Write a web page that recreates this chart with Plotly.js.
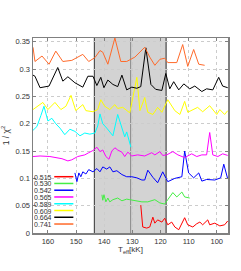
<!DOCTYPE html>
<html><head><meta charset="utf-8">
<script src="https://cdn.plot.ly/plotly-3.0.1.min.js"></script>
<style>html,body{margin:0;padding:0;background:#fff}#chart{width:241px;height:271px}</style>
</head><body><div id="chart"></div>
<script>
// Series labels and colours
const labels = ["0.515","0.530","0.542","0.565","0.589","0.609","0.664","0.741"];
const colors = ["#ff0000","#44ee44","#0000ff","#ff00ff","#00ffff","#ffff00","#000000","#ff6a2a"];

// T_eff [kK] and 1/chi^2 values per series
const t515 = [127.0,126.6,126.3,124.9,123.8,122.7,122.0,121.0,119.5,118.5,117.4,116.0,114.9,113.5,111.4,110.3,108.5,107.1,106.0,105.0,103.2,102.5,100.7,98.9,97.2,96.1];
const v515 = [0.051,0.022,0.011,0.009,0.011,0.029,0.018,0.024,0.020,0.027,0.015,0.020,0.011,0.006,0.028,0.015,0.011,0.017,0.020,0.015,0.024,0.015,0.018,0.013,0.015,0.022];

const t530 = [140.8,140.5,140.1,139.4,138.7,138.0,136.9,135.2,133.7,132.0,130.9,129.1,126.6,124.5,122.0,120.2,118.5,117.4,115.6,114.2,112.4,111.4,109.6];
const v530 = [0.070,0.060,0.070,0.057,0.064,0.057,0.061,0.064,0.059,0.062,0.061,0.059,0.057,0.057,0.061,0.055,0.053,0.061,0.074,0.066,0.075,0.066,0.064];

const t542 = [150.4,149.7,149.0,148.3,147.6,146.5,145.5,144.0,142.6,141.5,140.5,139.1,138.0,136.9,135.5,133.7,132.0,130.2,128.4,126.6,125.6,124.5,122.7,121.0,119.2,117.4,114.9,112.4,111.4,110.0,108.2,106.4,105.3,103.6,100.7,98.6,97.5,96.1];
const v542 = [0.110,0.094,0.110,0.103,0.112,0.108,0.116,0.112,0.118,0.112,0.121,0.117,0.121,0.112,0.114,0.107,0.103,0.103,0.101,0.097,0.097,0.115,0.102,0.092,0.112,0.094,0.100,0.103,0.150,0.110,0.101,0.110,0.095,0.098,0.097,0.101,0.126,0.099];

const t565 = [165.3,162.8,159.3,155.0,152.9,151.5,149.4,146.9,145.5,144.0,142.6,141.5,140.5,139.4,138.3,137.3,136.2,135.2,133.7,132.7,131.6,130.2,128.1,125.6,123.1,122.0,120.2,119.2,117.8,115.6,113.8,111.4,108.9,107.1,105.3,103.6,102.5,101.4,99.6,97.9,96.1];
const v565 = [0.140,0.141,0.140,0.136,0.132,0.134,0.140,0.143,0.147,0.151,0.157,0.149,0.152,0.140,0.135,0.150,0.156,0.152,0.148,0.140,0.148,0.141,0.143,0.141,0.147,0.143,0.149,0.142,0.143,0.149,0.143,0.138,0.145,0.140,0.143,0.143,0.184,0.143,0.140,0.145,0.142];

const t589 = [165.3,163.9,162.5,161.4,160.0,158.6,157.2,155.7,154.0,152.2,150.4,148.6,146.9,145.1,143.3,142.3,141.5,140.5,139.1,138.0,136.9,135.2,133.7,132.7,132.0,131.2,130.5];
const v589 = [0.188,0.195,0.215,0.232,0.205,0.210,0.200,0.192,0.180,0.190,0.186,0.178,0.183,0.181,0.183,0.196,0.218,0.200,0.192,0.185,0.178,0.217,0.190,0.176,0.185,0.170,0.157];

const t609 = [165.3,163.5,161.8,160.0,157.5,155.4,153.6,151.8,150.1,147.6,146.5,144.0,142.3,141.2,139.8,138.0,136.2,135.2,133.4,130.9,128.4,127.3,125.6,124.5,122.7,121.0,119.5,117.4,114.9,113.1,111.4,110.3,108.5,106.8,105.0,102.5,100.0,98.9,97.2,96.1];
const v609 = [0.226,0.232,0.239,0.226,0.239,0.226,0.232,0.252,0.224,0.235,0.224,0.222,0.226,0.244,0.232,0.226,0.235,0.228,0.230,0.220,0.285,0.224,0.248,0.221,0.217,0.230,0.221,0.244,0.224,0.217,0.241,0.221,0.226,0.230,0.222,0.233,0.217,0.226,0.217,0.224];

const t664 = [165.3,164.6,162.8,159.6,156.5,154.7,152.9,150.4,147.6,145.8,144.0,142.6,141.2,140.1,138.7,136.9,135.2,133.7,132.0,130.2,128.4,127.0,125.2,123.4,121.7,119.5,118.1,116.7,115.3,113.5,111.7,109.6,107.8,105.3,103.6,101.4,99.3,97.9,96.1];
const v664 = [0.289,0.287,0.266,0.269,0.303,0.278,0.286,0.275,0.267,0.287,0.287,0.270,0.285,0.266,0.280,0.272,0.268,0.289,0.262,0.267,0.265,0.268,0.339,0.272,0.263,0.261,0.292,0.264,0.277,0.262,0.273,0.264,0.269,0.259,0.264,0.262,0.285,0.269,0.266];

const t741 = [165.3,164.6,162.1,159.6,157.2,154.7,151.5,147.6,145.5,143.3,141.5,140.5,138.7,136.2,134.1,132.0,129.1,125.6,123.8,122.0,120.2,118.5,117.4,114.2,112.1,110.3,108.2,106.4,104.3];
const v741 = [0.340,0.314,0.324,0.309,0.333,0.314,0.316,0.327,0.314,0.321,0.334,0.331,0.309,0.357,0.314,0.314,0.322,0.340,0.322,0.307,0.318,0.320,0.312,0.312,0.345,0.305,0.336,0.309,0.307];

const xTicks = [160,150,140,130,120,110,100];
const yTicks = [0,0.05,0.1,0.15,0.2,0.25,0.3,0.35];
const yTickText = ["0","0.05","0.1","0.15","0.2","0.25","0.3","0.35"];

// shaded region bounds (kK)
const bandLeft = 143.5, bandRight = 118.0, bandMid = 130.6;

const xs = [t515,t530,t542,t565,t589,t609,t664,t741];
const ys = [v515,v530,v542,v565,v589,v609,v664,v741];

const traces = xs.map((x,i)=>({
  x:x, y:ys[i], type:'scatter', mode:'lines', name:labels[i],
  line:{color:colors[i], width:1}, showlegend:false, hoverinfo:'skip'
}));

const F = 'Liberation Sans, Arial, sans-serif';
const TXT = '#333';
const shapes = [
  {type:'rect', xref:'x', yref:'paper', x0:bandLeft, x1:bandRight, y0:0, y1:1, fillcolor:'#d3d3d3', line:{width:0}, layer:'between'},
  {type:'line', xref:'x', yref:'paper', x0:bandLeft, x1:bandLeft, y0:0, y1:1, line:{color:'#333', width:1}, layer:'between'},
  {type:'line', xref:'x', yref:'paper', x0:bandRight, x1:bandRight, y0:0, y1:1, line:{color:'#666', width:1.5}, layer:'between'},
  {type:'line', xref:'x', yref:'paper', x0:bandMid, x1:bandMid, y0:0, y1:1, line:{color:'#888', width:1}, layer:'between'}
];
const annotations = [];
// manual legend: text then line sample
const plotTop = 38, plotH = 195;
labels.forEach((lab,i)=>{
  const yPix = 176.7 + 6.76*i;
  const yp = (plotTop + plotH - yPix)/plotH;
  annotations.push({xref:'paper', yref:'paper', x:0.0, y:yp, xanchor:'left', yanchor:'middle',
    text:lab, showarrow:false, height:6.4, borderpad:0, valign:'middle',
    font:{family:F, size:7, color:TXT}});
  shapes.push({type:'line', xref:'paper', yref:'paper', x0:0.109, x1:0.207, y0:yp, y1:yp,
    line:{color:colors[i], width:1.5}});
});

const layout = {
  width:241, height:271,
  margin:{l:33, r:13, t:38, b:38, pad:0},
  paper_bgcolor:'#fff', plot_bgcolor:'#fff',
  showlegend:false,
  font:{family:F, size:7, color:TXT},
  xaxis:{range:[165.3,96.0], tickvals:xTicks, ticktext:xTicks.map(String),
    ticks:'inside', ticklen:3, tickcolor:'#808080', mirror:'ticks',
    showline:true, linecolor:'#808080', linewidth:1.5,
    showgrid:true, gridcolor:'#cccccc', griddash:'dot', gridwidth:1,
    zeroline:false, tickfont:{family:F, size:7.5, color:TXT},
    title:{text:'T<sub>eff</sub>[kK]', font:{family:F, size:8, color:TXT}, standoff:2}},
  yaxis:{range:[0,0.357], tickvals:yTicks, ticktext:yTickText,
    ticks:'inside', ticklen:3, tickcolor:'#808080', mirror:'ticks',
    showline:true, linecolor:'#808080', linewidth:1.5,
    showgrid:true, gridcolor:'#cccccc', griddash:'dot', gridwidth:1,
    zeroline:false, tickfont:{family:F, size:7.5, color:TXT},
    title:{text:'1 / χ<sup>2</sup>', font:{family:F, size:8.5, color:TXT}, standoff:5}},
  shapes:shapes, annotations:annotations
};
Plotly.newPlot('chart', traces, layout, {staticPlot:true, displayModeBar:false});
</script></body></html>
